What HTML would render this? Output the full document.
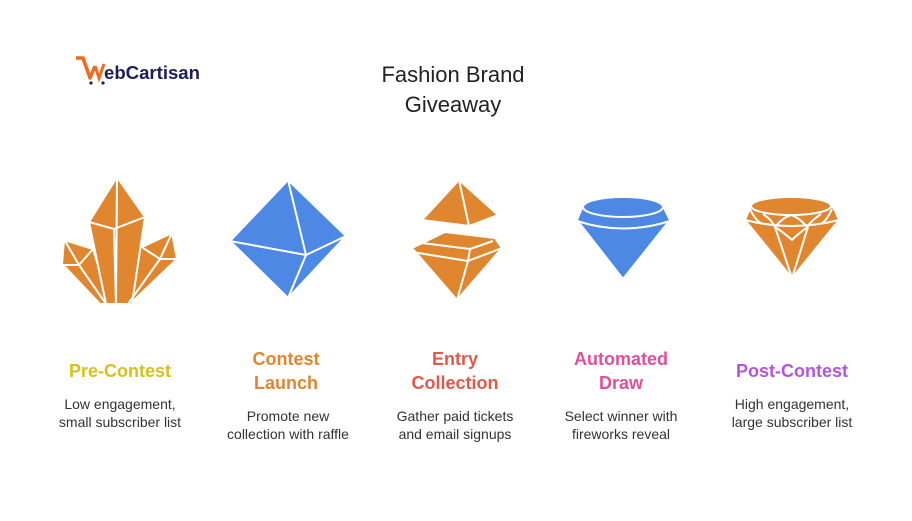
<!DOCTYPE html>
<html><head><style>
body{margin:0;width:912px;height:516px;background:#fff;font-family:"Liberation Sans",sans-serif;overflow:hidden}
</style></head><body>
<svg width="912" height="516" xmlns="http://www.w3.org/2000/svg" font-family="Liberation Sans, sans-serif">
<path d="M76 58 L83 58 L90 78 L95 66" fill="none" stroke="#F26B1D" stroke-width="3.5" stroke-linejoin="round"/>
<path d="M95 66 L99 78 L104 64" fill="none" stroke="#F26B1D" stroke-width="3"/>
<circle cx="91" cy="83" r="1.6" fill="#1a1f5c"/><circle cx="103" cy="83" r="1.6" fill="#1a1f5c"/>
<text x="104" y="79" font-size="18" font-weight="bold" fill="#1a1f5c" textLength="96" lengthAdjust="spacingAndGlyphs">ebCartisan</text>
<text x="453" y="82" font-size="22" text-anchor="middle" fill="#222">Fashion Brand</text>
<text x="453" y="112" font-size="22" text-anchor="middle" fill="#222">Giveaway</text>
<g fill="#E0862F" stroke="#fff" stroke-width="2" stroke-linejoin="round">
<polygon points="64,240 93,249 110,304 100,304 62,264"/>
<polygon points="140,248 172,233 177,259 130,304 122,304"/>
<polygon points="117,177 145,217 132,304 106,304 89,222"/>
<polyline points="89,222 114,229 145,217" fill="none"/>
<line x1="117" y1="177" x2="116" y2="304"/><line x1="114" y1="229" x2="116" y2="304"/>
<line x1="65" y1="241" x2="79" y2="265"/><line x1="62" y1="265" x2="79" y2="265"/><line x1="79" y1="265" x2="106" y2="304"/><line x1="79" y1="265" x2="93" y2="249"/>
<line x1="172" y1="233" x2="160" y2="259"/><line x1="143" y1="248" x2="160" y2="259"/><line x1="160" y1="259" x2="177" y2="259"/><line x1="160" y1="259" x2="128" y2="304"/>
<polygon points="459,180 498,215 469,226 422,220"/>
<line x1="459" y1="180" x2="469" y2="226"/>
<polygon points="412,248 445,232 495,238 502,248 457,300"/>
<polyline points="422,243 470,249 493,241" fill="none"/>
<polyline points="412,252 468,261 502,248" fill="none"/>
<line x1="470" y1="249" x2="468" y2="261"/><line x1="468" y1="261" x2="457" y2="300"/>
<path d="M745,220 L750,208 Q792,190 834,208 L839,220 L792,278 Z"/>
<ellipse cx="791" cy="206" rx="40" ry="9"/>
<path d="M745,220 Q792,232 839,220" fill="none"/>
<path d="M750,209 Q755,220 761,223 M832,209 Q827,220 822,223" fill="none"/>
<path d="M763,214 Q772,220 775,227 Q782,218 791,215 Q800,218 807,227 Q812,220 821,214" fill="none"/>
<path d="M775,227 L792,278 L808,227 M775,227 Q783,232 792,240 Q800,232 808,227" fill="none"/>
</g>
<g fill="#4D88E5" stroke="#fff" stroke-width="2" stroke-linejoin="round">
<polygon points="288,180 346,236 288,298 230,241"/>
<polyline points="288,180 306,255 288,298" fill="none"/>
<polyline points="230,241 306,255 346,236" fill="none"/>
<path d="M577,220 L582,208 Q623,190 664,208 L670,220 L623,279 Z"/>
<ellipse cx="623" cy="207" rx="40" ry="10"/>
<path d="M577,221 Q623,236 670,221" fill="none"/>
</g>
<g font-size="18" font-weight="bold" text-anchor="middle">
<text x="120" y="377" fill="#D4C21A">Pre-Contest</text>
<text x="286" y="365" fill="#E0862F">Contest</text><text x="286" y="389" fill="#E0862F">Launch</text>
<text x="455" y="365" fill="#E05A4A">Entry</text><text x="455" y="389" fill="#E05A4A">Collection</text>
<text x="621" y="365" fill="#E0509A">Automated</text><text x="621" y="389" fill="#E0509A">Draw</text>
<text x="792" y="377" fill="#B455E0">Post-Contest</text>
</g>
<g font-size="14" text-anchor="middle" fill="#333">
<text x="120" y="409">Low engagement,</text><text x="120" y="427">small subscriber list</text>
<text x="288" y="421">Promote new</text><text x="288" y="439">collection with raffle</text>
<text x="455" y="421">Gather paid tickets</text><text x="455" y="439">and email signups</text>
<text x="621" y="421">Select winner with</text><text x="621" y="439">fireworks reveal</text>
<text x="792" y="409">High engagement,</text><text x="792" y="427">large subscriber list</text>
</g>
</svg>
</body></html>
